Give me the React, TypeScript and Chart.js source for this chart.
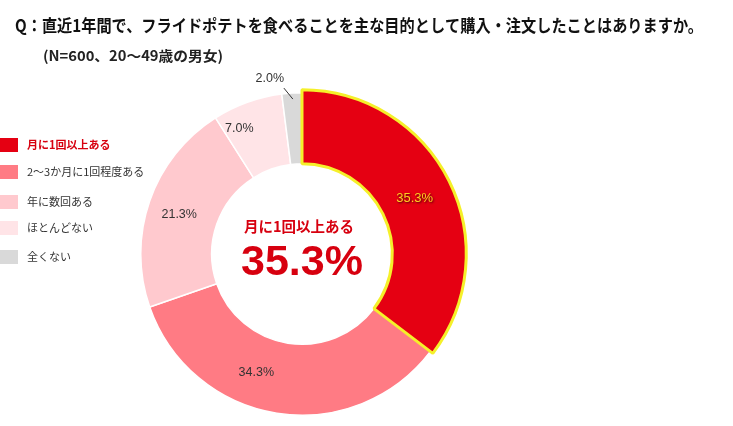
import React, { useEffect, useRef } from 'react';
import { Chart, registerables } from 'chart.js';

Chart.register(...registerables);

const title = 'Q：直近1年間で、フライドポテトを食べることを主な目的として購入・注文したことはありますか。';
const subtitle = '(N=600、20～49歳の男女)';
const categories = ['月に1回以上ある', '2～3か月に1回程度ある', '年に数回ある', 'ほとんどない', '全くない'];
const values = [35.3, 34.3, 21.3, 7.0, 2.0];
const sliceColors = ['#e50012', '#ff7b84', '#ffc9ce', '#ffe4e7', '#d9d9d9'];
const centerCaption = '月に1回以上ある';
const centerValue = '35.3%';

const CJK = '"Noto Sans CJK JP", "Noto Sans", sans-serif';
const NUM = '"Liberation Sans", Arial, sans-serif';

// draws the title, legend, center text and value labels
const overlayPlugin = {
  id: 'overlay',
  afterDatasetsDraw(chart: any) {
    // highlighted slice drawn again, a little larger, with its yellow edge on top
    const arc = chart.getDatasetMeta(0).data[0];
    const ctx = chart.ctx;
    const r0 = arc.outerRadius;
    const opts = arc.options;
    const saveColor = opts.borderColor;
    const saveWidth = opts.borderWidth;
    arc.outerRadius = r0 + 3;
    opts.borderColor = '#f5f02a';
    opts.borderWidth = 3;
    ctx.save();
    arc.draw(ctx);
    ctx.restore();
    arc.outerRadius = r0;
    opts.borderColor = saveColor;
    opts.borderWidth = saveWidth;
  },
  afterDraw(chart: any) {
    const ctx = chart.ctx;
    const meta = chart.getDatasetMeta(0);
    const cx = meta.data[0].x;
    const cy = meta.data[0].y;

    ctx.save();
    ctx.textBaseline = 'middle';

    // title, squeezed to the reference width
    const fitText = (text: string, font: string, x: number, y: number, w: number, color: string) => {
      ctx.font = font;
      ctx.fillStyle = color;
      ctx.textAlign = 'left';
      const m = ctx.measureText(text).width;
      ctx.save();
      ctx.translate(x, y);
      ctx.scale(w / m, 1);
      ctx.fillText(text, 0, 0);
      ctx.restore();
    };
    fitText(title, `bold 17px ${CJK}`, 15, 26, 688, '#111');
    fitText(subtitle, `bold 14px ${CJK}`, 43, 56, 180, '#222');

    // legend
    const legendY = [145, 172, 202, 228, 257];
    categories.forEach((c, i) => {
      ctx.fillStyle = sliceColors[i];
      ctx.fillRect(0, legendY[i] - 7, 18, 14);
      ctx.font = `${i === 0 ? 'bold ' : ''}11px ${CJK}`;
      ctx.fillStyle = i === 0 ? '#d7000f' : '#333';
      ctx.textAlign = 'left';
      ctx.fillText(c, 27, legendY[i]);
    });

    // center text
    ctx.textAlign = 'center';
    ctx.fillStyle = '#d7000f';
    ctx.font = `bold 14.5px ${CJK}`;
    ctx.fillText(centerCaption, cx - 3, cy - 28);
    ctx.font = `bold 43px ${NUM}`;
    ctx.fillText(centerValue, cx, cy + 9);

    // value labels
    const nudge = [[0, 0], [-26, -6], [-4, 2], [-20, -7]];
    meta.data.forEach((el: any, i: number) => {
      const txt = values[i].toFixed(1) + '%';
      ctx.font = `12.5px ${NUM}`;
      if (i === 4) {
        const mid = (el.startAngle + el.endAngle) / 2;
        const ox = el.x + Math.cos(mid) * el.outerRadius;
        const oy = el.y + Math.sin(mid) * el.outerRadius;
        ctx.strokeStyle = '#333';
        ctx.lineWidth = 1;
        ctx.beginPath();
        ctx.moveTo(ox + 1, oy + 6);
        ctx.lineTo(ox - 8, oy - 5);
        ctx.stroke();
        ctx.fillStyle = '#333';
        ctx.fillText(txt, ox - 22, oy - 15);
        return;
      }
      const p = el.tooltipPosition();
      if (i === 0) {
        ctx.save();
        ctx.shadowColor = 'rgba(60,0,0,0.9)';
        ctx.shadowBlur = 2;
        ctx.shadowOffsetX = 1;
        ctx.shadowOffsetY = 1;
        ctx.fillStyle = '#ffcc22';
        ctx.font = `13px ${NUM}`;
        ctx.fillText(txt, p.x, p.y);
        ctx.restore();
      } else {
        ctx.fillStyle = '#333';
        ctx.fillText(txt, p.x + nudge[i][0], p.y + nudge[i][1]);
      }
    });
    ctx.restore();
  },
};

const App: React.FC = () => {
  const canvasRef = useRef<HTMLCanvasElement | null>(null);

  useEffect(() => {
    document.body.style.margin = '0';
    let chart: Chart<'doughnut'> | null = null;
    if (canvasRef.current) {
      chart = new Chart(canvasRef.current, {
        type: 'doughnut',
        data: {
          labels: categories,
          datasets: [
            {
              data: values,
              backgroundColor: sliceColors,
              borderColor: '#ffffff',
              borderWidth: 1.5,
              hoverBorderWidth: 1.5,
              hoverOffset: 0,
            },
          ],
        },
        options: {
          animation: false,
          responsive: false,
          devicePixelRatio: 1,
          cutout: '56%',
          layout: { padding: { top: 92, bottom: 10, left: 140, right: 269 } },
          plugins: {
            legend: { display: false },
            tooltip: { enabled: false },
          },
        },
        plugins: [overlayPlugin],
      });
    }
    return () => {
      if (chart) chart.destroy();
    };
  }, []);

  return (
    <div style={{ width: 733, height: 426, background: '#fff' }}>
      <canvas ref={canvasRef} width={733} height={426} />
    </div>
  );
};

export default App;
